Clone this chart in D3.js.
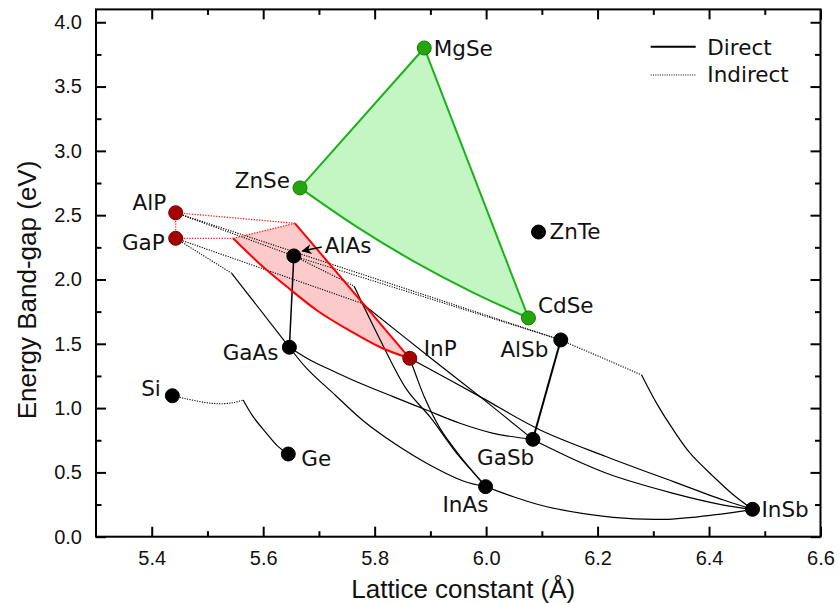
<!DOCTYPE html>
<html>
<head>
<meta charset="utf-8">
<script src="https://cdn.jsdelivr.net/npm/d3@7"></script>
<style>
  html, body { margin: 0; padding: 0; background: #fff; }
  svg { display: block; }
</style>
</head>
<body>
<svg id="chart" width="839" height="603"></svg>
<script>
// ---- Binary semiconductors: lattice constant (Å) and band gap (eV) ----
const compounds    = ['Si', 'Ge', 'AlP', 'GaP', 'AlAs', 'GaAs', 'InP', 'AlSb', 'GaSb', 'InAs', 'InSb', 'ZnSe', 'MgSe', 'CdSe', 'ZnTe'];
const latticeConst = [5.437, 5.645, 5.443, 5.443, 5.655, 5.647, 5.863, 6.134, 6.084, 5.999, 6.478, 5.666, 5.889, 6.076, 6.094];
const bandGap      = [1.096, 0.643, 2.519, 2.320, 2.183, 1.473, 1.387, 1.530, 0.757, 0.389, 0.213, 2.712, 3.800, 1.701, 2.369];
const materialGroup = ['IV', 'IV', 'phosphide', 'phosphide', 'III-V', 'III-V', 'phosphide', 'III-V', 'III-V', 'III-V', 'III-V', 'selenide', 'selenide', 'selenide', 'II-VI'];

// ---- Axis ticks ----
const xTicks = [5.4, 5.6, 5.8, 6.0, 6.2, 6.4, 6.6];
const xMinorTicks = [5.5, 5.7, 5.9, 6.1, 6.3, 6.5];
const yTicks = [0.0, 0.5, 1.0, 1.5, 2.0, 2.5, 3.0, 3.5, 4.0];
const yMinorTicks = [0.25, 0.75, 1.25, 1.75, 2.25, 2.75, 3.25, 3.75];

// ---- Alloy gap curves (points between the two end compounds) ----
// indirect: points from the first compound to the crossover, kink: crossover,
// direct: points from the crossover to the second compound.
const SiGe    = { ends: ['Si', 'Ge'], indirect: [[5.487, 1.050], [5.517, 1.034], [5.546, 1.042]], kink: [5.564, 1.063], direct: [[5.582, 0.933], [5.606, 0.804], [5.627, 0.700]] };
const GaAsP   = { ends: ['GaP', 'GaAs'], indirect: [], kink: [5.5435, 2.048], direct: [] };
const AlInAs  = { ends: ['AlAs', 'InAs'], indirect: [], kink: [5.763, 1.949], direct: [[5.810, 1.530], [5.858, 1.141], [5.899, 0.933], [5.947, 0.649], [5.989, 0.441]] };
const GaPSb   = { ends: ['GaP', 'GaSb'], indirect: [], kink: [5.777, 1.815], direct: [[5.905, 1.374], [5.989, 1.089]] };
const AlInSb  = { ends: ['AlSb', 'InSb'], indirect: [], kink: [6.279, 1.257], direct: [[6.306, 1.037], [6.336, 0.830], [6.366, 0.649], [6.408, 0.467], [6.444, 0.324]] };
const AlGaAs  = { ends: ['AlAs', 'GaAs'], direct: [] };
const GaInAs  = { ends: ['GaAs', 'InAs'], direct: [[5.678, 1.309], [5.729, 1.102], [5.780, 0.900], [5.837, 0.721], [5.899, 0.558], [5.959, 0.433]] };
const GaAsSb  = { ends: ['GaAs', 'GaSb'], direct: [[5.684, 1.374], [5.729, 1.281], [5.774, 1.193], [5.833, 1.089], [5.893, 0.985], [5.953, 0.882], [6.013, 0.804]] };
const InAsP   = { ends: ['InP', 'InAs'], direct: [[5.874, 1.257], [5.890, 1.078], [5.917, 0.844], [5.953, 0.627], [5.980, 0.487]] };
const InPSb   = { ends: ['InP', 'InSb'], direct: [[5.989, 1.089], [6.097, 0.830], [6.216, 0.622], [6.336, 0.428], [6.426, 0.285]] };
const GaInSb  = { ends: ['GaSb', 'InSb'], direct: [[6.097, 0.726], [6.216, 0.493], [6.336, 0.337], [6.426, 0.246]] };
const InAsSb  = { ends: ['InAs', 'InSb'], direct: [[6.049, 0.311], [6.109, 0.233], [6.228, 0.151], [6.318, 0.135], [6.408, 0.169]] };
const AlGaSb  = { ends: ['AlSb', 'GaSb'], direct: [] };
const AlAsP   = { ends: ['AlP', 'AlAs'], indirect: [] };
const AlPSb   = { ends: ['AlP', 'AlSb'], indirect: [] };
const AlAsSb  = { ends: ['AlAs', 'AlSb'], indirect: [] };
// AlGaInP system
const AlGaP   = { ends: ['AlP', 'GaP'], indirect: [] };
const GaInP   = { ends: ['GaP', 'InP'], indirect: [], kink: [5.546, 2.320], direct: [[5.594, 2.121], [5.641, 1.949], [5.698, 1.755], [5.756, 1.600], [5.813, 1.467]] };
const AlInP   = { ends: ['AlP', 'InP'], indirect: [], kink: [5.657, 2.437], direct: [] };
// ZnMgCdSe system
const ZnMgSe  = { ends: ['ZnSe', 'MgSe'], direct: [] };
const MgCdSe  = { ends: ['MgSe', 'CdSe'], direct: [] };
const ZnCdSe  = { ends: ['ZnSe', 'CdSe'], direct: [[5.768, 2.409], [5.871, 2.139], [5.974, 1.904]] };

const blackAlloys = [SiGe, GaAsP, AlInAs, GaPSb, AlInSb, AlGaAs, GaInAs, GaAsSb, InAsP, InPSb, GaInSb, InAsSb, AlGaSb, AlAsP, AlPSb, AlAsSb];
const redAlloys = [AlGaP, GaInP, AlInP];
const greenAlloys = [ZnMgSe, MgCdSe, ZnCdSe];

// ---- Layout ----
const svg = d3.select('#chart');
const x = d3.scaleLinear().domain([5.3, 6.6]).range([96, 820.5]);
const y = d3.scaleLinear().domain([0, 4.1]).range([536.7, 9.4]);

const pt = {};
compounds.forEach((c, i) => { pt[c] = [latticeConst[i], bandGap[i]]; });

const curve = d3.line().x(d => x(d[0])).y(d => y(d[1])).curve(d3.curveCatmullRom.alpha(0.5));

function segments(al) {
  const a = pt[al.ends[0]], b = pt[al.ends[1]];
  if (al.kink) {
    return [
      { type: 'indirect', pts: [a, ...al.indirect, al.kink] },
      { type: 'direct', pts: [al.kink, ...al.direct, b] }
    ];
  }
  if (al.indirect) return [{ type: 'indirect', pts: [a, ...al.indirect, b] }];
  return [{ type: 'direct', pts: [a, ...al.direct, b] }];
}

const colors = {
  black: '#000', red: '#ff0000', redDot: '#ff2020', green: '#1cb01c',
  redFill: '#fccaca', greenFill: '#c3f6c3',
  phosphide: '#a30000', phosphideEdge: '#7a0000',
  selenide: '#23a50b', selenideEdge: '#177a05'
};

// ---- Filled regions ----
const gFill = svg.append('g');
// AlGaInP direct-gap region: AlP-InP branch, back along GaP-InP, closed along the crossover
const redEdge1 = [AlInP.kink, ...AlInP.direct, pt['InP']];
const redEdge2 = [pt['InP'], ...GaInP.direct.slice().reverse(), GaInP.kink];
gFill.append('path')
  .attr('d', curve(redEdge1) + curve(redEdge2).replace(/^M/, 'L') + 'Z')
  .attr('fill', colors.redFill).attr('stroke', 'none');
// ZnMgCdSe triangle
const greenEdge = [pt['MgSe'], pt['CdSe']];
const greenBack = [pt['CdSe'], ...ZnCdSe.direct.slice().reverse(), pt['ZnSe']];
gFill.append('path')
  .attr('d', curve([pt['ZnSe'], pt['MgSe']]) + curve(greenEdge).replace(/^M/, 'L') + curve(greenBack).replace(/^M/, 'L') + 'Z')
  .attr('fill', colors.greenFill).attr('stroke', 'none');

// ---- Black alloy curves ----
const heavy = new Set([AlGaSb]);
const gLines = svg.append('g').attr('fill', 'none');
blackAlloys.forEach(al => {
  segments(al).forEach(s => {
    gLines.append('path')
      .attr('d', curve(s.pts))
      .attr('stroke', colors.black)
      .attr('stroke-width', s.type === 'direct' ? (heavy.has(al) ? 2 : (al === AlGaAs ? 1.5 : 1.2)) : 1.1)
      .attr('stroke-dasharray', s.type === 'direct' ? null : '1.2 1.3');
  });
});

// ---- AlGaInP curves ----
const gRed = svg.append('g').attr('fill', 'none');
redAlloys.forEach(al => {
  segments(al).forEach(s => {
    gRed.append('path')
      .attr('d', curve(s.pts))
      .attr('stroke', s.type === 'direct' ? colors.red : colors.redDot)
      .attr('stroke-width', s.type === 'direct' ? 2 : 1.3)
      .attr('stroke-dasharray', s.type === 'direct' ? null : '1.3 1.4');
  });
});
// crossover boundary between the two ternary kinks
gRed.append('path')
  .attr('d', curve([GaInP.kink, AlInP.kink]))
  .attr('stroke', colors.redDot).attr('stroke-width', 1.3).attr('stroke-dasharray', '1.3 1.4');

// ---- ZnMgCdSe edges ----
const gGreen = svg.append('g').attr('fill', 'none');
greenAlloys.forEach(al => {
  segments(al).forEach(s => {
    gGreen.append('path').attr('d', curve(s.pts))
      .attr('stroke', colors.green).attr('stroke-width', 2);
  });
});

// ---- Compound markers ----
const gPts = svg.append('g');
compounds.forEach((c, i) => {
  const grp = materialGroup[i];
  const fill = grp === 'phosphide' ? colors.phosphide : grp === 'selenide' ? colors.selenide : '#000';
  const edge = grp === 'phosphide' ? colors.phosphideEdge : grp === 'selenide' ? colors.selenideEdge : '#000';
  gPts.append('circle')
    .attr('cx', x(latticeConst[i])).attr('cy', y(bandGap[i])).attr('r', 7)
    .attr('fill', fill).attr('stroke', edge).attr('stroke-width', 1);
});

// ---- Compound labels ----
const labelPlace = {
  Si:   { dx: -11.5, dy: 0.5, anchor: 'end' },
  Ge:   { dx: 13, dy: 12, anchor: 'start' },
  AlP:  { dx: -9.5, dy: -2.5, anchor: 'end' },
  GaP:  { dx: -11, dy: 11.7, anchor: 'end' },
  AlAs: { dx: 31, dy: -3, anchor: 'start' },
  GaAs: { dx: -11, dy: 12.7, anchor: 'end' },
  InP:  { dx: 14, dy: -2.3, anchor: 'start' },
  AlSb: { dx: -12.4, dy: 16.7, anchor: 'end' },
  GaSb: { dx: 1.3, dy: 25.7, anchor: 'end' },
  InAs: { dx: 2.8, dy: 25, anchor: 'end' },
  InSb: { dx: 9, dy: 7.4, anchor: 'start' },
  ZnSe: { dx: -10, dy: 0.3, anchor: 'end' },
  MgSe: { dx: 9.5, dy: 8, anchor: 'start' },
  CdSe: { dx: 9.6, dy: -4.7, anchor: 'start' },
  ZnTe: { dx: 11, dy: 7, anchor: 'start' }
};
const gLab = svg.append('g')
  .attr('font-family', '"DejaVu Sans", Verdana, sans-serif')
  .attr('font-size', 21.5).attr('fill', '#111');
compounds.forEach((c, i) => {
  const p = labelPlace[c];
  gLab.append('text')
    .attr('x', x(latticeConst[i]) + p.dx)
    .attr('y', y(bandGap[i]) + p.dy)
    .attr('text-anchor', p.anchor)
    .text(c);
});

// arrow from the AlAs label to its marker
const defs = svg.append('defs');
defs.append('marker').attr('id', 'arrowHead')
  .attr('viewBox', '0 0 10 10').attr('refX', 9).attr('refY', 5)
  .attr('markerWidth', 10).attr('markerHeight', 10).attr('markerUnits', 'userSpaceOnUse')
  .attr('orient', 'auto')
  .append('path').attr('d', 'M0,0 L10,5 L0,10 L3,5 Z').attr('fill', '#000');
{
  const ax = x(pt['AlAs'][0]), ay = y(pt['AlAs'][1]);
  svg.append('line')
    .attr('x1', ax + 28).attr('y1', ay - 9)
    .attr('x2', ax + 8.5).attr('y2', ay - 5)
    .attr('stroke', '#000').attr('stroke-width', 1.6)
    .attr('marker-end', 'url(#arrowHead)');
}

// ---- Legend ----
const gLeg = svg.append('g')
  .attr('font-family', '"DejaVu Sans", Verdana, sans-serif')
  .attr('font-size', 21.5).attr('fill', '#111');
gLeg.append('line').attr('x1', 650.7).attr('x2', 695.7).attr('y1', 46.7).attr('y2', 46.7)
  .attr('stroke', '#000').attr('stroke-width', 2);
gLeg.append('text').attr('x', 707.3).attr('y', 55).text('Direct');
gLeg.append('line').attr('x1', 650.7).attr('x2', 695.7).attr('y1', 75).attr('y2', 75)
  .attr('stroke', '#000').attr('stroke-width', 1).attr('stroke-dasharray', '1 1.3');
gLeg.append('text').attr('x', 707.3).attr('y', 81.7).text('Indirect');

// ---- Axes ----
const fmt = d3.format('.1f');
const tickFont = g => g.selectAll('text')
  .attr('font-family', '"Liberation Sans", Arial, sans-serif')
  .attr('font-size', 20).attr('fill', '#111');
const clean = g => {
  g.select('.domain').remove();
  g.selectAll('.tick line').attr('stroke', '#000').attr('stroke-width', 2);
};

const y0 = y(0), yTop = y(4.1), xL = x(5.3), xR = x(6.6);

svg.append('g').attr('transform', `translate(0,${y0})`)
  .call(d3.axisBottom(x).tickValues(xTicks).tickSizeInner(-10).tickSizeOuter(0).tickPadding(14).tickFormat(fmt))
  .call(clean).call(tickFont);
svg.append('g').attr('transform', `translate(0,${y0})`)
  .call(d3.axisBottom(x).tickValues(xMinorTicks).tickSizeInner(-5.5).tickSizeOuter(0).tickFormat(''))
  .call(clean);
svg.append('g').attr('transform', `translate(0,${yTop})`)
  .call(d3.axisTop(x).tickValues(xTicks).tickSizeInner(-10).tickSizeOuter(0).tickFormat(''))
  .call(clean);
svg.append('g').attr('transform', `translate(0,${yTop})`)
  .call(d3.axisTop(x).tickValues(xMinorTicks).tickSizeInner(-5.5).tickSizeOuter(0).tickFormat(''))
  .call(clean);
svg.append('g').attr('transform', `translate(${xL},0)`)
  .call(d3.axisLeft(y).tickValues(yTicks).tickSizeInner(-10).tickSizeOuter(0).tickPadding(14).tickFormat(fmt))
  .call(clean).call(tickFont);
svg.append('g').attr('transform', `translate(${xL},0)`)
  .call(d3.axisLeft(y).tickValues(yMinorTicks).tickSizeInner(-5.5).tickSizeOuter(0).tickFormat(''))
  .call(clean);
svg.append('g').attr('transform', `translate(${xR},0)`)
  .call(d3.axisRight(y).tickValues(yTicks).tickSizeInner(-10).tickSizeOuter(0).tickFormat(''))
  .call(clean);
svg.append('g').attr('transform', `translate(${xR},0)`)
  .call(d3.axisRight(y).tickValues(yMinorTicks).tickSizeInner(-5.5).tickSizeOuter(0).tickFormat(''))
  .call(clean);

// frame
svg.append('rect')
  .attr('x', xL).attr('y', yTop).attr('width', xR - xL).attr('height', y0 - yTop)
  .attr('fill', 'none').attr('stroke', '#000').attr('stroke-width', 2);

// axis titles
svg.append('text')
  .attr('x', (xL + xR) / 2 + 5).attr('y', 598)
  .attr('text-anchor', 'middle')
  .attr('font-family', '"Liberation Sans", Arial, sans-serif')
  .attr('font-size', 26).attr('fill', '#111')
  .text('Lattice constant (Å)');
svg.append('text')
  .attr('transform', 'translate(36,290) rotate(-90)')
  .attr('text-anchor', 'middle')
  .attr('font-family', '"Liberation Sans", Arial, sans-serif')
  .attr('font-size', 26).attr('fill', '#111')
  .text('Energy Band-gap (eV)');
</script>
</body>
</html>
